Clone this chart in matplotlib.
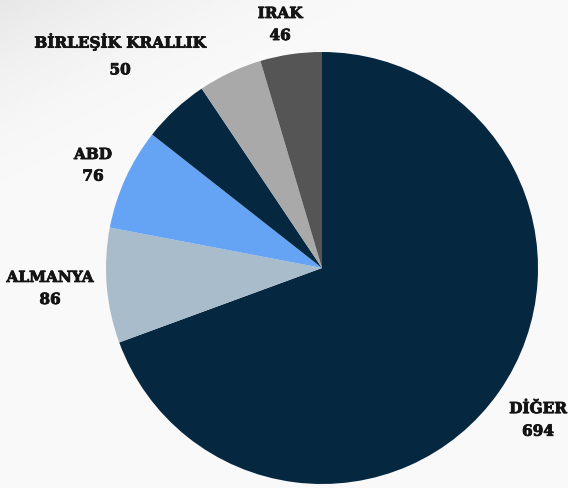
import matplotlib
matplotlib.use("Agg")
import matplotlib.pyplot as plt
import matplotlib.patheffects as pe
import numpy as np

categories = ["DİĞER", "ALMANYA", "ABD", "BİRLEŞİK KRALLIK", "", "IRAK"]
values = [694, 86, 76, 50, 48, 46]
colors = ["#062740", "#a8bccc", "#65a4f4", "#062740", "#a9a9a9", "#555555"]

# label positions (data coords of pie axes, radius = 1)
label_pos = {
    "DİĞER": (1.0, -0.653, -0.758),
    "ALMANYA": (-1.259, -0.046, -0.148),
    "ABD": (-1.06, 0.523, 0.423),
    "BİRLEŞİK KRALLIK": (-0.935, 1.046, 0.915),
    "IRAK": (-0.194, 1.176, 1.074),
}

W, H = 568, 488
fig = plt.figure(figsize=(W / 100, H / 100), dpi=100)

# background
bg = fig.add_axes([0, 0, 1, 1])
yy, xx = np.mgrid[0:1:200j, 0:1:200j]
shade = 0.975 - 0.07 * np.clip(1 - (xx * 1.3 + yy * 2.2), 0, 1) ** 2
bg.imshow(shade, cmap="gray", vmin=0, vmax=1, extent=[0, 1, 0, 1], aspect="auto", origin="upper")
bg.axis("off")

ax = fig.add_axes([106 / W, 4 / H, 432 / W, 432 / H])
ax.pie(values, colors=colors, startangle=90, counterclock=False,
       wedgeprops=dict(linewidth=0), radius=1)
ax.set_xlim(-1, 1)
ax.set_ylim(-1, 1)
ax.set_aspect("equal")
ax.axis("off")

font = dict(family="DejaVu Serif", fontweight="bold", fontsize=11, color="#141414",
            ha="center", va="center", clip_on=False,
            path_effects=[pe.withStroke(linewidth=0.6, foreground="#141414")])
for cat, val in zip(categories, values):
    if cat in label_pos:
        x, y1, y2 = label_pos[cat]
        ax.text(x, y1, cat, **font)
        ax.text(x, y2, str(val), **font)

fig.savefig("out.png", dpi=100)
